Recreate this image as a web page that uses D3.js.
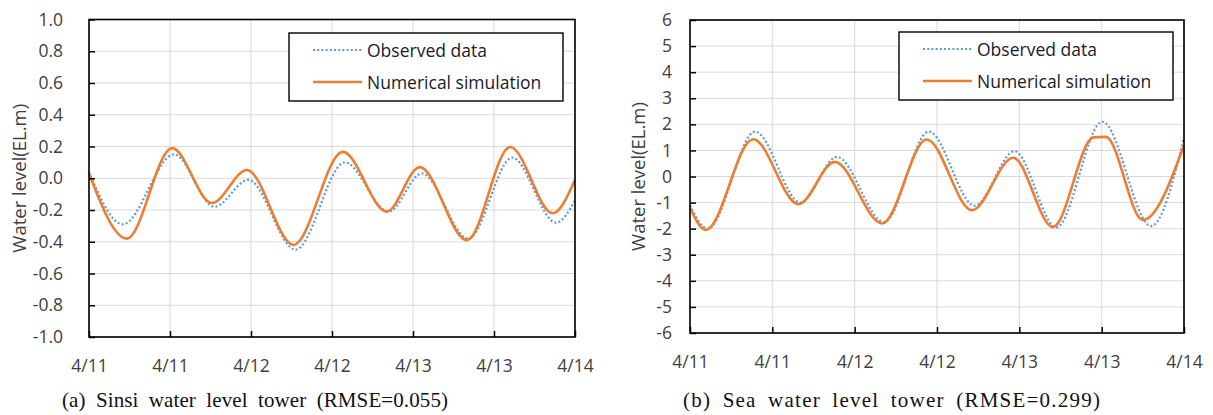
<!DOCTYPE html>
<html>
<head>
<meta charset="utf-8">
<script src="https://cdn.jsdelivr.net/npm/d3@7"></script>
<style>
  html, body { margin: 0; padding: 0; background: #fff; }
  svg { display: block; }
</style>
</head>
<body>
<svg id="chart" width="1213" height="415"></svg>
<script>
// Time axis: hours since 4/11 00:00, labelled every 12 hours
const tickHours = [0, 12, 24, 36, 48, 60, 72];
const tickLabels = ["4/11", "4/11", "4/12", "4/12", "4/13", "4/13", "4/14"];

// (a) Sinsi water level tower
const sinsiTicks = [1.0, 0.8, 0.6, 0.4, 0.2, 0.0, -0.2, -0.4, -0.6, -0.8, -1.0];
const sinsiSimHours = [0, 5.6, 12.3, 18.2, 23.4, 30.3, 37.6, 44.1, 49.0, 56.0, 62.4, 68.7, 72];
const sinsiSimLevel = [0.03, -0.38, 0.19, -0.156, 0.052, -0.42, 0.166, -0.21, 0.07, -0.39, 0.197, -0.22, -0.01];
const sinsiObsHours = [0, 5.0, 12.6, 18.6, 23.6, 30.6, 37.9, 44.4, 49.3, 56.2, 62.7, 69.2, 72];
const sinsiObsLevel = [0.04, -0.29, 0.15, -0.18, -0.01, -0.45, 0.10, -0.21, 0.03, -0.38, 0.13, -0.28, -0.14];

// (b) Sea water level tower
const seaTicks = [6, 5, 4, 3, 2, 1, 0, -1, -2, -3, -4, -5, -6];
const seaSimHours = [0, 2.3, 9.2, 15.8, 21.1, 28.0, 34.5, 41.1, 47.1, 52.9, 58.8, 60.6, 66.0, 72];
const seaSimLevel = [-1.2, -2.05, 1.43, -1.06, 0.56, -1.8, 1.42, -1.29, 0.72, -1.94, 1.5, 1.52, -1.67, 1.2];
const seaObsHours = [0, 2.6, 9.5, 16.1, 21.4, 28.3, 34.8, 41.5, 47.3, 53.4, 60.1, 67.2, 72];
const seaObsLevel = [-1.1, -2.0, 1.72, -1.0, 0.75, -1.75, 1.72, -1.12, 0.97, -1.95, 2.1, -1.9, 1.5];

const seriesNames = ["Observed data", "Numerical simulation"];

const ORANGE = "#ED7D31";
const BLUE = "#5B9BD5";
const GRID = "#d9d9d9";
const TEXT = "#404040";
const FONT = "'Open Sans', sans-serif";

const svg = d3.select("#chart");

// tick formats using a plain hyphen for negatives
const hyphen = f => d => f(d).replace("\u2212", "-");

function drawPanel(opt) {
  const g = svg.append("g");
  const x = d3.scaleLinear().domain([0, 72]).range([opt.left, opt.right]);
  const y = d3.scaleLinear().domain(opt.domain).range([opt.bottom, opt.top]);

  // gridlines
  g.append("g").selectAll("line").data(opt.yTicks).join("line")
    .attr("x1", opt.left).attr("x2", opt.right)
    .attr("y1", d => y(d)).attr("y2", d => y(d))
    .attr("stroke", GRID).attr("stroke-width", 1);
  g.append("g").selectAll("line").data(tickHours).join("line")
    .attr("y1", opt.top).attr("y2", opt.bottom)
    .attr("x1", d => x(d)).attr("x2", d => x(d))
    .attr("stroke", GRID).attr("stroke-width", 1);

  // series
  const line = (hs, vs) => d3.line()
    .x((d, i) => x(hs[i])).y(d => y(d))
    .curve(d3.curveMonotoneX)(vs);

  g.append("path").attr("d", line(opt.obsHours, opt.obsLevel))
    .attr("fill", "none").attr("stroke", BLUE).attr("stroke-width", 2.2)
    .attr("stroke-dasharray", "2,2.2");
  g.append("path").attr("d", line(opt.simHours, opt.simLevel))
    .attr("fill", "none").attr("stroke", ORANGE).attr("stroke-width", 2.6)
    .attr("stroke-linejoin", "round");

  // axes with inward ticks
  const xAxis = d3.axisBottom(x).tickValues(tickHours)
    .tickFormat((d, i) => tickLabels[i]).tickSize(-6).tickPadding(opt.xPad);
  const yAxis = d3.axisLeft(y).tickValues(opt.yTicks)
    .tickFormat(opt.fmt).tickSize(-6).tickPadding(opt.yPad);

  const gx = g.append("g").attr("transform", `translate(0,${opt.bottom})`).call(xAxis);
  const gy = g.append("g").attr("transform", `translate(${opt.left},0)`).call(yAxis);
  [gx, gy].forEach(a => {
    a.select(".domain").remove();
    a.selectAll(".tick line").attr("stroke", "#000").attr("stroke-width", 1.5);
    a.selectAll(".tick text").attr("fill", TEXT)
      .style("font-family", FONT).style("font-size", "17.5px");
  });

  // plot frame
  g.append("rect")
    .attr("x", opt.left).attr("y", opt.top)
    .attr("width", opt.right - opt.left).attr("height", opt.bottom - opt.top)
    .attr("fill", "none").attr("stroke", "#000").attr("stroke-width", 1.6);

  // y-axis title
  g.append("text")
    .attr("transform", `translate(${opt.titleX},${(opt.top + opt.bottom) / 2}) rotate(-90)`)
    .attr("text-anchor", "middle").attr("dominant-baseline", "central")
    .attr("fill", TEXT).style("font-family", FONT).style("font-size", "18.5px")
    .text("Water level(EL.m)");

  // legend
  const lg = g.append("g").attr("transform", `translate(${opt.legX},${opt.legY})`);
  lg.append("rect").attr("width", 274).attr("height", 68)
    .attr("fill", "#fff").attr("stroke", "#000").attr("stroke-width", 1.4);
  const rows = [
    { name: seriesNames[0], color: BLUE, dash: "2,2.2", w: 2.2 },
    { name: seriesNames[1], color: ORANGE, dash: null, w: 2.6 }
  ];
  rows.forEach((r, i) => {
    const cy = 17 + i * 32;
    lg.append("line").attr("x1", 24).attr("x2", 73).attr("y1", cy).attr("y2", cy)
      .attr("stroke", r.color).attr("stroke-width", r.w)
      .attr("stroke-dasharray", r.dash);
    lg.append("text").attr("x", 78).attr("y", cy).attr("dominant-baseline", "central")
      .attr("fill", "#1a1a2a").style("font-family", FONT).style("font-size", "17.5px")
      .text(r.name);
  });

  // caption: fixed extra word gap, remaining width spread across letters
  const cap = svg.append("text")
    .attr("x", opt.capX).attr("y", 407)
    .attr("fill", "#111").style("font-family", "'Liberation Serif', serif")
    .style("font-size", "21px")
    .text(opt.caption);
  const natural = cap.node().getComputedTextLength();
  const gaps = opt.caption.split(" ").length - 1;
  const wordGap = 5;
  const letters = opt.caption.length - 1;
  const spread = Math.max(0, (opt.capW - natural - gaps * wordGap) / letters);
  cap.style("word-spacing", `${wordGap}px`).style("letter-spacing", `${spread}px`);
}

drawPanel({
  left: 89, right: 575, top: 19.5, bottom: 337,
  domain: [-1, 1], yTicks: sinsiTicks, fmt: hyphen(d3.format(".1f")),
  simHours: sinsiSimHours, simLevel: sinsiSimLevel,
  obsHours: sinsiObsHours, obsLevel: sinsiObsLevel,
  xPad: 23, yPad: 26,
  titleX: 18, legX: 289, legY: 33,
  capX: 62, capW: 386, caption: "(a) Sinsi water level tower (RMSE=0.055)"
});

drawPanel({
  left: 690, right: 1184, top: 20, bottom: 333,
  domain: [-6, 6], yTicks: seaTicks, fmt: hyphen(d3.format("d")),
  simHours: seaSimHours, simLevel: seaSimLevel,
  obsHours: seaObsHours, obsLevel: seaObsLevel,
  xPad: 23, yPad: 18,
  titleX: 637, legX: 899, legY: 32,
  capX: 683, capW: 417, caption: "(b) Sea water level tower (RMSE=0.299)"
});
</script>
</body>
</html>
